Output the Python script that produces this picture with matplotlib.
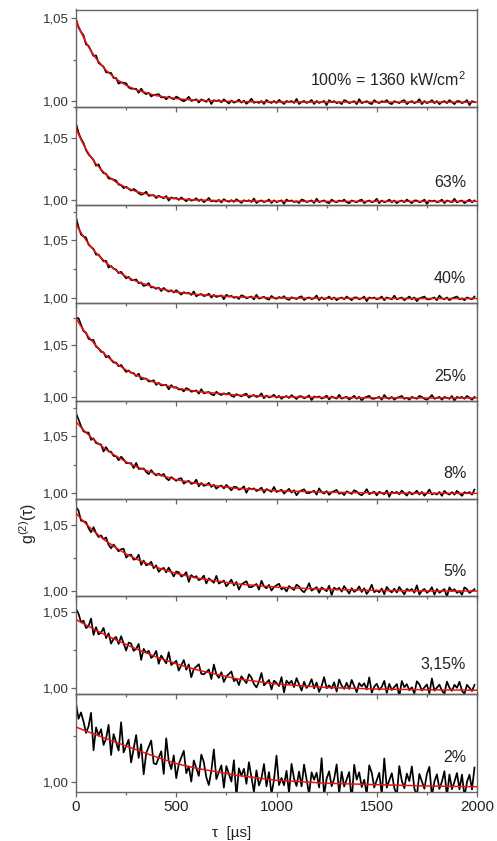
import numpy as np
import matplotlib
matplotlib.use('Agg')
import matplotlib.pyplot as plt
from matplotlib.ticker import MultipleLocator, FuncFormatter

plt.rcParams['font.family'] = ['Liberation Sans', 'DejaVu Sans']
plt.rcParams['mathtext.default'] = 'regular'


###### Data (g2 values given as 1e-4 above 1, sampled every 12.5 us)
step_us = 12.5

labels = ['100% = 1360 kW/cm$^2$', '63%', '40%', '25%', '8%', '5%', '3,15%', '2%']

g2_100 = [
    494, 444, 416, 396, 342, 333, 302, 272, 275, 231,
    219, 208, 174, 172, 170, 140, 140, 106, 114, 111,
    108, 83, 76, 75, 75, 51, 76, 53, 43, 51,
    29, 38, 40, 43, 23, 26, 12, 28, 20, 12,
    28, 20, 7, 0, 10, 27, 2, 7, 12, -7,
    11, 4, -3, 15, -16, 7, 1, 7, -6, 12,
    -1, -13, 5, -8, -2, 10, -8, 4, -15, -3,
    15, -9, -3, -10, 2, -16, 8, -4, -10, 2,
    -10, 8, -4, -16, 2, -4, 2, -10, 14, -16,
    -4, 2, -10, -4, 8, -16, 2, -10, -4, 2,
    -23, 7, -5, 1, -11, -5, -17, 7, 1, -11,
    -5, 1, -17, 13, -11, -5, 1, -11, -17, 7,
    -5, -11, 1, -5, 7, -11, -17, 1, -5, -11,
    1, 7, -17, -5, 1, -11, -5, 13, -17, 1,
    -11, -5, 7, -11, 1, -17, -5, 1, -11, 7,
    -5, -17, 1, 1, -11, -5, 7, -23, 1, -5]

g2_63 = [
    620, 546, 495, 462, 404, 370, 347, 325, 278, 289,
    245, 218, 213, 175, 173, 165, 159, 126, 121, 97,
    108, 92, 77, 90, 77, 56, 43, 52, 68, 35,
    38, 41, 17, 35, 25, 15, 33, -4, 22, 13,
    18, 2, 22, 6, -9, 11, -4, 2, 15, -7,
    6, -16, -2, 18, -10, -4, -12, 2, -19, 8,
    -6, -13, 0, -14, 7, -7, -22, -1, -8, -1,
    -15, 13, -23, -9, -2, -16, -9, 5, -23, -2,
    -16, -9, -2, -30, 5, -9, -2, -16, -9, -23,
    5, -2, -16, -9, -2, -23, 12, -16, -9, -2,
    -17, -24, 4, -10, -17, -3, -10, 4, -17, -24,
    -3, -10, -17, -3, 4, -24, -10, -3, -17, -10,
    11, -24, -3, -17, -10, 4, -17, -3, -24, -10,
    -3, -17, 4, -10, -24, -3, -3, -17, -10, 4,
    -31, -3, -10, -3, -17, -10, 4, -24, -3, -10,
    -17, 11, -17, -10, -3, -24, -10, 4, -17, -3]

g2_40 = [
    700, 616, 552, 534, 526, 464, 444, 425, 376, 377,
    347, 318, 322, 264, 278, 254, 247, 216, 227, 198,
    170, 183, 156, 154, 161, 128, 135, 104, 112, 129,
    91, 93, 79, 89, 60, 87, 67, 55, 67, 47,
    67, 48, 29, 50, 39, 45, 26, 56, 14, 28,
    34, 16, 22, 37, 3, 26, 8, 15, 22, -11,
    28, 11, 18, 1, 8, -9, 23, 14, -3, 5,
    12, -13, 27, -6, 2, 10, -7, -15, 17, 0,
    -8, 8, -1, 15, -9, -17, 6, -2, -10, 6,
    14, -18, -3, 5, -11, -3, 21, -19, 5, -12,
    -4, 12, -12, 4, -20, -4, 4, -12, 12, -4,
    -20, 4, 4, -12, -4, 12, -28, 4, -4, 4,
    -12, -4, 12, -20, 4, -4, -12, 20, -12, -4,
    4, -20, -4, 12, -12, 4, -28, -4, 4, 12,
    -12, -12, -4, 4, -20, 20, -4, -12, 4, -20,
    -4, 4, 12, -12, -4, -20, 4, -4, -12, 12]

g2_25 = [
    755, 752, 691, 630, 615, 557, 546, 545, 482, 466,
    433, 428, 380, 395, 358, 331, 331, 296, 308, 275,
    242, 256, 234, 231, 202, 226, 171, 179, 179, 152,
    153, 163, 119, 139, 114, 116, 119, 77, 117, 94,
    98, 75, 79, 57, 89, 76, 54, 60, 66, 36,
    78, 39, 45, 52, 31, 20, 54, 34, 23, 39,
    28, 44, 16, 5, 31, 20, 10, 27, 35, -2,
    15, 23, 4, 12, 38, -8, 18, 0, 8, 25,
    -2, 15, -13, 5, 13, -5, 22, 3, -15, 11,
    11, -8, 1, 19, -26, 9, 0, 9, -10, -1,
    17, -19, 8, -2, -11, 25, -11, -2, 7, -20,
    -3, 15, -12, 6, -30, -3, 6, 15, -12, -12,
    -4, 5, -22, 23, -4, -13, 5, -22, -4, 5,
    14, -13, -4, -22, 5, -4, -13, 14, 5, -13,
    -22, -4, 23, -13, -4, 5, -22, 5, -4, -13,
    14, -31, 5, -4, 5, -13, 14, -4, -22, 5]

g2_8 = [
    705, 650, 591, 545, 534, 534, 469, 482, 441, 434,
    427, 366, 405, 367, 364, 327, 324, 289, 320, 297,
    264, 263, 263, 220, 265, 212, 214, 216, 185, 166,
    202, 173, 155, 170, 152, 168, 129, 112, 140, 123,
    107, 124, 130, 82, 99, 106, 80, 87, 117, 58,
    88, 62, 70, 89, 53, 72, 37, 56, 65, 40,
    71, 47, 23, 54, 52, 28, 37, 58, 1, 43,
    31, 40, 17, 27, 47, 2, 34, 22, 10, 53,
    8, 18, 28, -6, 15, 36, 3, 24, -21, 11,
    22, 32, -2, -2, 8, 19, -15, 40, 6, -5,
    16, -17, 5, 15, 26, -8, 3, -19, 14, 2,
    -9, 24, 12, -10, -21, 1, 33, -11, 0, 11,
    -22, 10, -1, -12, 21, -34, 10, -2, 9, -13,
    20, -2, -24, 9, -13, -3, 19, -14, 8, -25,
    -3, 30, -14, -3, -14, 8, -26, 18, -4, -15,
    7, -15, 18, -4, -26, 7, -4, 7, -15, 29]

g2_5 = [
    640, 612, 536, 530, 524, 478, 446, 485, 440, 410,
    422, 393, 407, 351, 324, 353, 327, 301, 317, 320,
    253, 271, 275, 237, 242, 275, 197, 230, 194, 201,
    221, 172, 193, 144, 166, 174, 140, 176, 143, 109,
    146, 141, 108, 118, 141, 67, 119, 101, 111, 80,
    90, 115, 55, 94, 77, 60, 113, 54, 66, 77,
    33, 58, 84, 40, 66, 8, 48, 60, 72, 28,
    27, 39, 51, 8, 76, 33, 18, 44, 1, 28,
    41, 53, 10, 23, -6, 35, 20, 5, 46, 32,
    3, -12, 15, 57, 0, 13, 27, -16, 25, 11,
    -4, 38, -33, 23, 8, 22, -7, 35, 6, -22,
    19, -9, 5, 32, -10, 18, -25, 3, 45, -12,
    2, -12, 16, -27, 29, 1, -13, 15, -14, 28,
    0, -28, 14, -1, 13, -15, 41, -29, -1, 13,
    -16, -2, 26, -30, 12, -16, -2, 12, -45, 25,
    -3, 11, -17, -3, -31, 25, 11, -17, -3, 11]

g2_315 = [
    520, 490, 432, 443, 394, 406, 457, 349, 400, 352,
    364, 395, 327, 359, 291, 323, 335, 288, 340, 293,
    245, 298, 291, 243, 256, 289, 183, 256, 230, 243,
    196, 210, 243, 157, 212, 186, 160, 234, 149, 163,
    177, 112, 147, 182, 118, 153, 68, 123, 138, 154,
    91, 87, 103, 119, 56, 152, 88, 64, 101, 37,
    73, 89, 106, 42, 58, 16, 74, 51, 29, 87,
    65, 23, 1, 38, 96, 14, 32, 50, -13, 45,
    31, 10, 69, -32, 46, 25, 44, 3, 62, 21,
    -21, 38, -3, 16, 55, -6, 33, -29, 10, 69,
    -5, 14, -6, 34, -27, 53, 12, -9, 31, -10,
    50, 9, -31, 29, 8, 28, -13, 67, -34, 5,
    25, -15, 4, 44, -36, 24, -17, 3, 23, -57,
    43, 2, 22, -18, 1, -39, 41, 21, -20, 0,
    20, -40, 60, -21, -1, 19, -21, -41, 39, -1,
    -22, 18, -2, 38, -22, -42, 18, -3, -23, 17]

g2_2 = [
    430, 345, 380, 330, 268, 303, 378, 173, 298, 253,
    288, 202, 237, 312, 147, 261, 216, 171, 326, 161,
    196, 231, 106, 181, 256, 131, 206, 41, 156, 191,
    226, 101, 96, 132, 167, 43, 238, 114, 69, 145,
    20, 97, 134, 170, 47, 84, 1, 117, 74, 32,
    149, 107, 25, -18, 60, 177, 15, 53, 90, -32,
    86, 43, 1, 118, -84, 74, 33, 71, -11, 107,
    26, -56, 62, -20, 19, 97, -25, 53, -69, 10,
    143, -18, 21, -19, 60, -61, 98, 17, -23, 56,
    -25, 94, 13, -67, 52, 11, 50, -31, 129, -72,
    17, 57, -24, 16, 95, -65, 55, -26, 14, 53,
    -107, 93, 12, 52, -29, 11, -69, 90, 50, -31,
    9, 49, -72, 128, -32, 7, 47, -33, -74, 86,
    5, -35, 45, 4, 84, -36, -77, 43, 3, -38,
    42, 82, -78, 1, 41, -39, 1, 58, -80, 40,
    -40, 0, 48, -41, 39, -81, -1, 39, -42, 78]

# Fit curves (red), same units
fit_tau = [0, 25, 50, 75, 100, 150, 200, 250, 300, 400, 500, 600, 800, 1000, 1250, 1500, 1750, 2000]
fit_100 = [488, 416, 354, 302, 257, 186, 134, 96, 69, 34, 16, 6, -2, -4, -5, -5, -5, -5]
fit_63 = [578, 488, 411, 347, 292, 206, 145, 101, 70, 31, 11, 1, -7, -9, -10, -10, -10, -10]
fit_40 = [642, 568, 502, 444, 392, 306, 239, 186, 145, 87, 51, 30, 8, 0, -3, -4, -5, -5]
fit_25 = [748, 674, 606, 546, 491, 398, 322, 261, 211, 137, 89, 57, 22, 7, -1, -4, -5, -5]
fit_8 = [630, 580, 534, 492, 453, 383, 325, 275, 232, 166, 118, 84, 41, 19, 6, 0, -3, -4]
fit_5 = [592, 550, 510, 474, 440, 379, 327, 281, 242, 179, 132, 97, 52, 27, 10, 2, -2, -3]
fit_315 = [450, 432, 414, 397, 380, 347, 315, 285, 256, 203, 157, 118, 58, 23, 0, -10, -15, -18]
fit_2 = [300, 289, 278, 268, 258, 237, 216, 196, 176, 136, 100, 74, 36, 8, -8, -16, -23, -27]

data = [g2_100, g2_63, g2_40, g2_25, g2_8, g2_5, g2_315, g2_2]
fits = [fit_100, fit_63, fit_40, fit_25, fit_8, fit_5, fit_315, fit_2]

# y range of each panel
ylims = [(0.99639, 1.0551), (0.99597, 1.0750), (0.99564, 1.0807), (0.99685, 1.0897),
         (0.99500, 1.0815), (0.99564, 1.0704), (0.99557, 1.0604), (0.99440, 1.0480)]
label_y = [0.28, 0.235, 0.245, 0.245, 0.255, 0.255, 0.30, 0.35]


###### Plot
W, H = 497, 841
fig = plt.figure(figsize=(W / 100, H / 100), dpi=100)

x0, x1 = 76, 477
top_px, bot_px = 9.5, 792
ph = (bot_px - top_px) / 8
frame = '#666666'
comma = FuncFormatter(lambda v, pos: f'{v:.2f}'.replace('.', ','))

for i in range(8):
    y_bottom = 1 - (top_px + (i + 1) * ph) / H
    ax = fig.add_axes([x0 / W, y_bottom, (x1 - x0) / W, ph / H])
    ax.set_facecolor('none')

    vals = 1 + np.array(data[i]) / 1e4
    tau = np.arange(len(vals)) * step_us
    ax.plot(tau, vals, color='black', lw=1.25, zorder=2)
    ax.plot(fit_tau, 1 + np.array(fits[i]) / 1e4, color='#ee1111', lw=1.1, zorder=3)

    ax.set_xlim(0, 2000)
    ax.set_ylim(*ylims[i])
    ax.xaxis.set_major_locator(MultipleLocator(500))
    ax.xaxis.set_minor_locator(MultipleLocator(250))
    ax.yaxis.set_major_locator(MultipleLocator(0.05))
    ax.yaxis.set_minor_locator(MultipleLocator(0.025))
    ax.yaxis.set_major_formatter(comma)

    for s in ax.spines.values():
        s.set_color(frame)
        s.set_linewidth(1.0)
    ax.tick_params(which='both', direction='out', color=frame, width=0.9,
                   top=False, right=False, labelbottom=(i == 7))
    ax.tick_params(which='major', length=3.5)
    ax.tick_params(which='minor', length=2.2)
    ax.tick_params(axis='y', labelsize=9.5, labelcolor='#333333', pad=1.5)
    ax.tick_params(axis='x', labelsize=11, labelcolor='#222222', pad=2)

    ax.text(0.973, label_y[i], labels[i], transform=ax.transAxes,
            ha='right', va='center', fontsize=11.5, color='#222222', zorder=4)

fig.text(28 / W, 1 - 523 / H, 'g$^{(2)}$(τ)', rotation=90,
         ha='center', va='center', fontsize=11.5, color='#222222')
fig.text(232 / W, 1 - 833 / H, 'τ  [µs]', ha='center', va='center',
         fontsize=11, color='#222222')

fig.savefig('out.png', dpi=100)
